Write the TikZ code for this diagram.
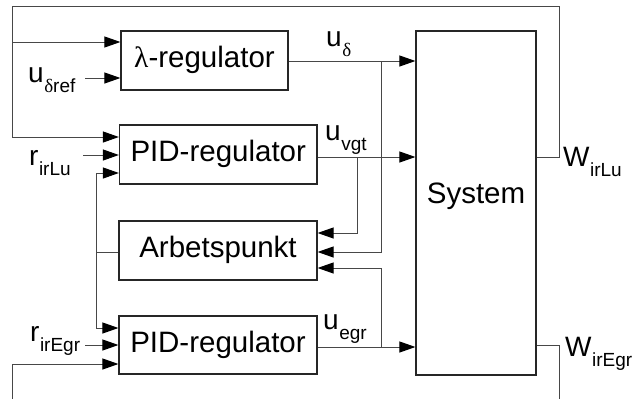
\documentclass[tikz,border=0pt]{standalone}
\usepackage{fontspec}
\setmainfont{Liberation Sans}
\newfontfamily\grk{Liberation Serif}
\usetikzlibrary{arrows.meta}
\newcommand\lblsub[2]{#1\kern0.5pt\raisebox{-10pt}{\fontsize{19}{19}\selectfont #2}}
\begin{document}
\begin{tikzpicture}[x=1pt,y=-1pt,
  blk/.style={draw=black!85, line width=1.2pt, inner sep=0pt, text height=20pt, text depth=6pt, font=\fontsize{29.5}{30}\selectfont},
  wire/.style={draw=black!72, line width=1pt},
  arr/.style={wire, -{Triangle[length=16pt,width=11pt,color=black]}},
  lbl/.style={inner sep=0pt, anchor=base west, font=\fontsize{28}{30}\selectfont}]
\useasboundingbox (0,0) rectangle (635,399);
% blocks
\node[blk, minimum width=167pt, minimum height=59pt] (lam) at (204.5,60.5) {{\grk λ}-regulator};
\node[blk, minimum width=197.5pt, minimum height=59pt] (pid1) at (218.25,154.5) {PID-regulator};
\node[blk, minimum width=198pt, minimum height=59pt] (arb) at (218,250.5) {Arbetspunkt};
\node[blk, minimum width=198pt, minimum height=58pt] (pid2) at (218,345) {PID-regulator};
\node[blk, minimum width=120pt, minimum height=344pt, text height=21pt, text depth=21pt] (sys) at (476,203) {System};
% labels
\node[lbl] (lud) at (326,46) {\lblsub{u}{\grk δ}};
\node[lbl] (luv) at (325,140) {\lblsub{u}{vgt}};
\node[lbl] (lue) at (323,329) {\lblsub{u}{egr}};
\node[lbl] (lwl) at (563,166) {\lblsub{W}{irLu}};
\node[lbl] (lwe) at (565,356) {\lblsub{W}{irEgr}};
\node[lbl] (lur) at (28,82) {\lblsub{u}{{\grk δ}ref}};
\node[lbl] (lrl) at (29,165) {\lblsub{r}{irLu}};
\node[lbl] (lre) at (30,341) {\lblsub{r}{irEgr}};
% helper coordinates
\coordinate (tr) at (559,6);
\coordinate (tl) at (12,6);
\coordinate (br) at (559,410);
\coordinate (bl) at (12,410);
\coordinate (inur) at (85,78);
\coordinate (inrl) at (83,155);
\coordinate (inre) at (85,345);
\coordinate (fbA) at (96,252);
\coordinate (jd) at (381,61);
\coordinate (jv) at (357,157);
\coordinate (je) at (381,347);
% system feedback top
\draw[wire] (sys.east |- 0,157) -- (tr |- 0,157) -- (tr) -- (tl) -- (tl |- 0,42);
\draw[arr] (tl |- 0,42) -- (lam.west |- 0,42);
\draw[arr] (tl |- 0,42) -- (tl |- 0,137) -- (pid1.west |- 0,137);
% references
\draw[arr] (inur) -- (lam.west |- inur);
\draw[arr] (inrl) -- (pid1.west |- inrl);
\draw[arr] (inre) -- (pid2.west |- inre);
% controller outputs
\draw[arr] (lam.east |- 0,61) -- (sys.west |- 0,61);
\draw[arr] (pid1.east |- 0,157) -- (sys.west |- 0,157);
\draw[arr] (pid2.east |- 0,347) -- (sys.west |- 0,347);
% to Arbetspunkt
\draw[arr] (jv) -- (jv |- 0,233) -- (arb.east |- 0,233);
\draw[arr] (jd) -- (jd |- 0,252) -- (arb.east |- 0,252);
\draw[arr] (je) -- (je |- 0,268) -- (arb.east |- 0,268);
% Arbetspunkt feedback
\draw[wire] (arb.west |- fbA) -- (fbA);
\draw[arr] (fbA) -- (fbA |- 0,173) -- (pid1.west |- 0,173);
\draw[arr] (fbA) -- (fbA |- 0,328) -- (pid2.west |- 0,328);
% system feedback bottom
\draw[arr] (sys.east |- 0,345) -- (br |- 0,345) -- (br) -- (bl) -- (bl |- 0,364) -- (pid2.west |- 0,364);
\end{tikzpicture}
\end{document}
